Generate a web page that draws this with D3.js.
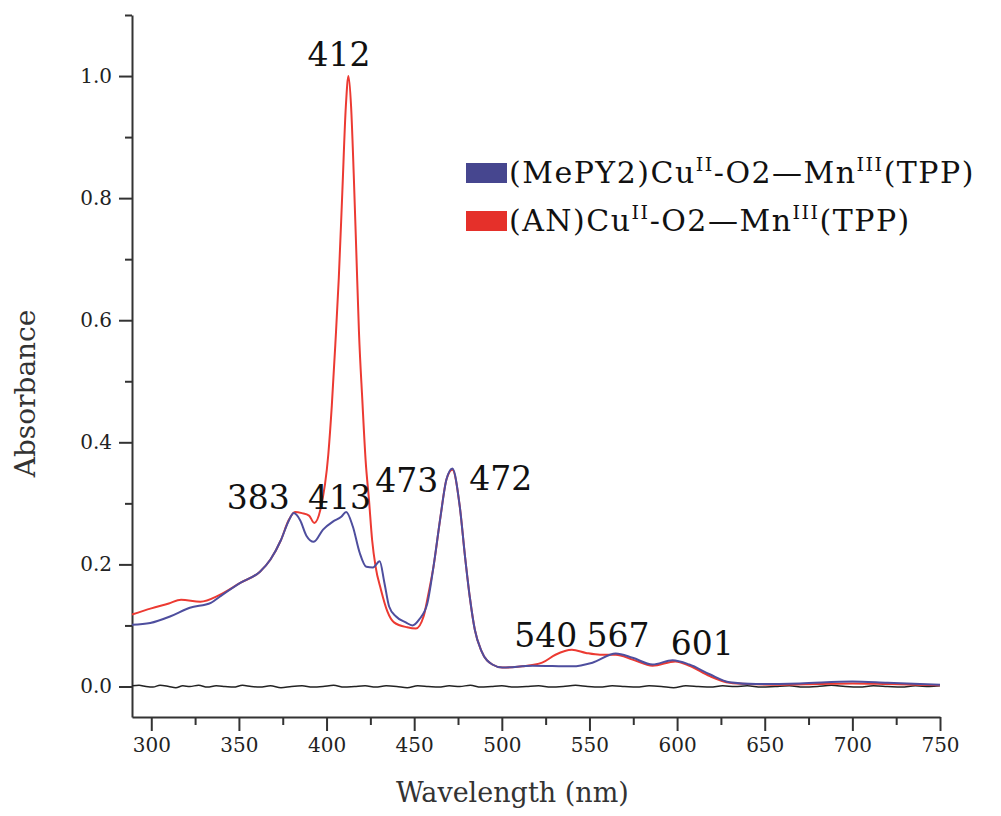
<!DOCTYPE html>
<html>
<head>
<meta charset="utf-8">
<script src="https://cdn.jsdelivr.net/npm/d3@7"></script>
<style>
  body { margin: 0; background: #fff; }
  svg text { font-family: "DejaVu Serif", serif; }
</style>
</head>
<body>
<svg id="chart" width="1001" height="816"></svg>
<script>
// (AN)Cu-O2-Mn(TPP) — red
const anWavelength = [289, 300, 310, 317, 328, 339, 351, 362, 368, 374, 378.5, 382, 386, 390, 393, 396.5, 401, 403, 405, 407, 409, 411, 412.5, 414, 415.5, 417, 418.5, 420.4, 422.3, 424.2, 426, 428, 431, 434.7, 438.5, 446, 451, 455.4, 458, 461, 465, 468.4, 471.8, 476, 479, 481.7, 484.6, 488.4, 494.6, 500.3, 511.7, 523, 530.6, 540, 548, 556, 565, 574.6, 586, 599, 607, 618.6, 630, 640, 660, 680, 700, 720, 750];
const anAbs = [0.118, 0.128, 0.136, 0.142, 0.139, 0.150, 0.170, 0.188, 0.208, 0.240, 0.273, 0.286, 0.284, 0.280, 0.268, 0.290, 0.380, 0.460, 0.560, 0.670, 0.810, 0.950, 1.0, 0.950, 0.840, 0.710, 0.580, 0.470, 0.370, 0.306, 0.240, 0.196, 0.159, 0.123, 0.105, 0.097, 0.095, 0.115, 0.150, 0.196, 0.278, 0.339, 0.355, 0.295, 0.213, 0.147, 0.093, 0.058, 0.036, 0.031, 0.033, 0.039, 0.052, 0.060, 0.055, 0.052, 0.052, 0.044, 0.034, 0.041, 0.034, 0.017, 0.006, 0.004, 0.003, 0.004, 0.005, 0.004, 0.002];

// (MePY2)Cu-O2-Mn(TPP) — blue
const mepyWavelength = [289, 299.4, 311, 322, 334, 339, 351, 362, 368, 374, 378.5, 381.3, 385, 388.5, 392.7, 398, 403.6, 408.4, 411.2, 415, 418.9, 422.7, 426.5, 430.3, 433, 435.7, 439.5, 445.2, 449, 452.9, 457.4, 461, 465, 468.4, 471.8, 476, 479, 481.7, 484.6, 488.4, 494.6, 500.3, 517.4, 540.3, 551.7, 565, 574.6, 586, 597.4, 607, 618.6, 630, 645, 670, 700, 720, 750];
const mepyAbs = [0.101, 0.104, 0.115, 0.129, 0.137, 0.147, 0.170, 0.188, 0.208, 0.240, 0.272, 0.284, 0.272, 0.247, 0.237, 0.257, 0.270, 0.278, 0.286, 0.262, 0.219, 0.196, 0.195, 0.205, 0.170, 0.131, 0.115, 0.105, 0.100, 0.110, 0.135, 0.196, 0.278, 0.339, 0.357, 0.295, 0.213, 0.147, 0.093, 0.058, 0.036, 0.031, 0.034, 0.033, 0.039, 0.054, 0.047, 0.036, 0.043, 0.036, 0.020, 0.007, 0.004, 0.005, 0.008, 0.006, 0.003];

// blank baseline — black
const blankWavelength = [289, 293, 297, 301, 305, 310, 314, 318, 322, 327, 332, 337, 342, 347, 352, 357, 362, 368, 374, 380, 386, 392, 398, 404, 410, 416, 422, 428, 434, 440, 446, 452, 458, 464, 470, 476, 482, 488, 494, 500, 507, 514, 521, 528, 535, 542, 549, 556, 563, 570, 577, 584, 591, 598, 605, 612, 619, 626, 633, 640, 648, 656, 664, 672, 680, 688, 696, 704, 712, 720, 728, 736, 744, 750];
const blankAbs = [0.001, 0.002, 0.000, -0.001, 0.002, 0.000, -0.002, 0.001, 0.000, 0.002, -0.001, 0.001, 0.000, -0.001, 0.002, 0.000, -0.001, 0.001, -0.002, 0.000, 0.001, -0.001, 0.000, 0.002, -0.001, 0.000, 0.001, -0.001, 0.001, 0.000, -0.002, 0.001, 0.000, -0.001, 0.001, 0.000, 0.002, -0.001, 0.000, 0.001, -0.001, 0.000, 0.001, -0.001, 0.000, 0.002, 0.000, -0.001, 0.001, 0.000, -0.001, 0.001, 0.000, -0.002, 0.001, 0.000, -0.001, 0.001, 0.000, 0.001, -0.001, 0.000, 0.001, -0.001, 0.000, 0.002, 0.000, -0.001, 0.001, 0.000, -0.001, 0.001, 0.000, 0.001];

const xTicks = [300, 350, 400, 450, 500, 550, 600, 650, 700, 750];
const yTicks = [0.0, 0.2, 0.4, 0.6, 0.8, 1.0];

const legendLabels = [
  { pre: "(MePY2)Cu", sup1: "II", mid: "-O2—Mn", sup2: "III", post: "(TPP)", color: "#46468f" },
  { pre: "(AN)Cu", sup1: "II", mid: "-O2—Mn", sup2: "III", post: "(TPP)", color: "#e5302a" }
];

// peak labels, anchored in data units (text centre, baseline)
const peakLabels = [
  { text: "412", nm: 407.1, abs: 1.016 },
  { text: "383", nm: 361.1, abs: 0.290 },
  { text: "413", nm: 407.4, abs: 0.290 },
  { text: "473", nm: 445.7, abs: 0.319 },
  { text: "472", nm: 499.4, abs: 0.322 },
  { text: "540", nm: 525.1, abs: 0.065 },
  { text: "567", nm: 566.3, abs: 0.065 },
  { text: "601", nm: 614.3, abs: 0.051 }
];

const margin = { top: 15, right: 61, bottom: 99, left: 132 };
const width = 1001 - margin.left - margin.right;
const height = 816 - margin.top - margin.bottom;

const svg = d3.select("#chart");
const g = svg.append("g").attr("transform", "translate(" + margin.left + "," + margin.top + ")");

const x = d3.scaleLinear().domain([289, 750]).range([0, width]);
const y = d3.scaleLinear().domain([-0.05, 1.1]).range([height, 0]);

const axisColor = "#333";

// x axis: minor then major
g.append("g")
  .attr("transform", "translate(0," + height + ")")
  .call(d3.axisBottom(x).tickValues(d3.range(300, 751, 25).filter(v => v % 50 !== 0)).tickSize(8).tickFormat(""))
  .call(a => a.select(".domain").remove())
  .call(a => a.selectAll("line").attr("stroke", axisColor).attr("stroke-width", 2));

const xAxis = g.append("g")
  .attr("transform", "translate(0," + height + ")")
  .call(d3.axisBottom(x).tickValues(xTicks).tickSize(14).tickPadding(7).tickSizeOuter(0));
xAxis.attr("font-family", null);
xAxis.select(".domain").attr("stroke", axisColor).attr("stroke-width", 2);
xAxis.selectAll("line").attr("stroke", axisColor).attr("stroke-width", 2);
xAxis.selectAll("text").attr("font-size", 20).attr("fill", "#222");

// y axis
g.append("g")
  .call(d3.axisLeft(y).tickValues([0.1, 0.3, 0.5, 0.7, 0.9, 1.1]).tickSize(7).tickFormat(""))
  .call(a => a.select(".domain").remove())
  .call(a => a.selectAll("line").attr("stroke", axisColor).attr("stroke-width", 2));

const yAxis = g.append("g")
  .call(d3.axisLeft(y).tickValues(yTicks).tickSize(13).tickPadding(7).tickSizeOuter(0).tickFormat(d3.format(".1f")));
yAxis.attr("font-family", null);
yAxis.select(".domain").attr("stroke", axisColor).attr("stroke-width", 2);
yAxis.selectAll("line").attr("stroke", axisColor).attr("stroke-width", 2);
yAxis.selectAll("text").attr("font-size", 20).attr("fill", "#222");

// axis titles
svg.append("text")
  .attr("x", margin.left + x(506))
  .attr("y", 802)
  .attr("text-anchor", "middle")
  .attr("font-size", 27)
  .attr("fill", "#333")
  .text("Wavelength (nm)");

svg.append("text")
  .attr("transform", "translate(35," + (margin.top + y(0.48)) + ") rotate(-90)")
  .attr("text-anchor", "middle")
  .attr("font-size", 28)
  .attr("fill", "#333")
  .text("Absorbance");

// curves
const line = d3.line()
  .x(d => x(d[0]))
  .y(d => y(d[1]))
  .curve(d3.curveMonotoneX);

const series = [
  { wl: blankWavelength, abs: blankAbs, color: "#222", w: 1.5 },
  { wl: anWavelength, abs: anAbs, color: "#ec3a32", w: 2 },
  { wl: mepyWavelength, abs: mepyAbs, color: "#4e4e9e", w: 2 }
];

series.forEach(s => {
  g.append("path")
    .datum(d3.zip(s.wl, s.abs))
    .attr("fill", "none")
    .attr("stroke", s.color)
    .attr("stroke-width", s.w)
    .attr("stroke-linejoin", "round")
    .attr("d", line);
});

// peak labels
g.selectAll(".peak")
  .data(peakLabels)
  .enter()
  .append("text")
  .attr("class", "peak")
  .attr("x", d => x(d.nm))
  .attr("y", d => y(d.abs))
  .attr("text-anchor", "middle")
  .attr("font-size", 33)
  .attr("fill", "#111")
  .text(d => d.text);

// legend
const legend = svg.append("g").attr("transform", "translate(466,163)");
legendLabels.forEach((l, i) => {
  const row = legend.append("g").attr("transform", "translate(0," + (i * 48) + ")");
  row.append("rect")
    .attr("width", 41)
    .attr("height", 20)
    .attr("fill", l.color);
  const t = row.append("text")
    .attr("x", 43)
    .attr("y", 20)
    .attr("font-size", 30)
    .attr("letter-spacing", 1.5)
    .attr("fill", "#111");
  t.append("tspan").text(l.pre);
  t.append("tspan").attr("font-size", 19).attr("dy", -12).text(l.sup1);
  t.append("tspan").attr("dy", 12).text(l.mid);
  t.append("tspan").attr("font-size", 19).attr("dy", -12).text(l.sup2);
  t.append("tspan").attr("dy", 12).text(l.post);
});
</script>
</body>
</html>
